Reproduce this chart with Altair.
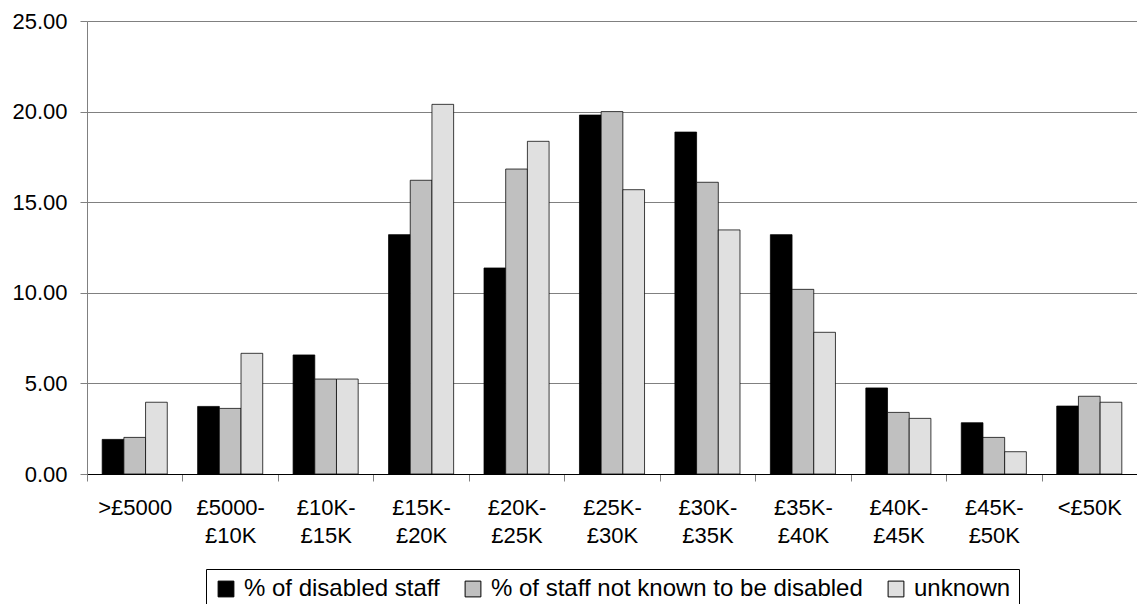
import altair as alt
import pandas as pd

categories = [">£5000", "£5000-£10K", "£10K-£15K", "£15K-£20K", "£20K-£25K",
              "£25K-£30K", "£30K-£35K", "£35K-£40K", "£40K-£45K", "£45K-£50K", "<£50K"]
series = ["% of disabled staff", "% of staff not known to be disabled", "unknown"]
disabled = [1.91, 3.73, 6.57, 13.21, 11.37, 19.81, 18.87, 13.21, 4.75, 2.83, 3.75]
not_known = [2.02, 3.62, 5.24, 16.21, 16.83, 20.00, 16.10, 10.19, 3.40, 2.02, 4.29]
unknown = [3.96, 6.66, 5.24, 20.40, 18.36, 15.69, 13.47, 7.82, 3.07, 1.23, 3.96]
colors = ["#000000", "#C0C0C0", "#E0E0E0"]

rows = []
for i, c in enumerate(categories):
    for s, vals in zip(series, [disabled, not_known, unknown]):
        rows.append({"band": c, "series": s, "value": vals[i]})
df = pd.DataFrame(rows)

FONT = "Liberation Sans"

label_expr = "split(replace(datum.label, '-', '-|'), '|')"

chart = alt.Chart(df).mark_bar(stroke="#000000", strokeWidth=1, strokeOpacity=0.75).encode(
    x=alt.X("band:N", sort=categories, title=None,
            scale=alt.Scale(paddingInner=0, paddingOuter=0),
            axis=alt.Axis(labelAngle=0, labelExpr=label_expr, labelFontSize=22,
                          labelFont=FONT, labelColor="#000000", labelLineHeight=28,
                          labelPadding=16, tickBand="extent", tickSize=7,
                          tickColor="#808080", domainColor="#000000", grid=False)),
    xOffset=alt.XOffset("series:N", sort=series,
                        scale=alt.Scale(paddingInner=0, paddingOuter=0.7)),
    y=alt.Y("value:Q", title=None,
            scale=alt.Scale(domain=[0, 25], nice=False),
            axis=alt.Axis(values=[0, 5, 10, 15, 20, 25], format=".2f", labelFontSize=22,
                          labelFont=FONT, labelColor="#000000", labelPadding=13,
                          tickSize=7, tickColor="#808080", domainColor="#808080",
                          gridColor="#808080", gridWidth=1, grid=True)),
    color=alt.Color("series:N", sort=series,
                    scale=alt.Scale(domain=series, range=colors),
                    legend=alt.Legend(title=None, orient="none", direction="horizontal",
                                      columns=3, legendX=119, legendY=548,
                                      labelFontSize=24, labelFont=FONT, labelColor="#000000",
                                      symbolType="square", symbolSize=250,
                                      symbolStrokeColor="#000000", symbolStrokeWidth=1,
                                      labelOffset=6, columnPadding=21,
                                      padding=8, strokeColor="#000000",
                                      labelLimit=600)),
).properties(
    width=1050, height=453,
    autosize=alt.AutoSizeParams(type="none"),
    padding={"left": 87, "top": 21, "right": 0, "bottom": 130},
).configure_view(stroke=None).configure_axis(domainWidth=1, tickWidth=1)

chart.save("out.html", embed_options={"renderer": "svg", "actions": False})
